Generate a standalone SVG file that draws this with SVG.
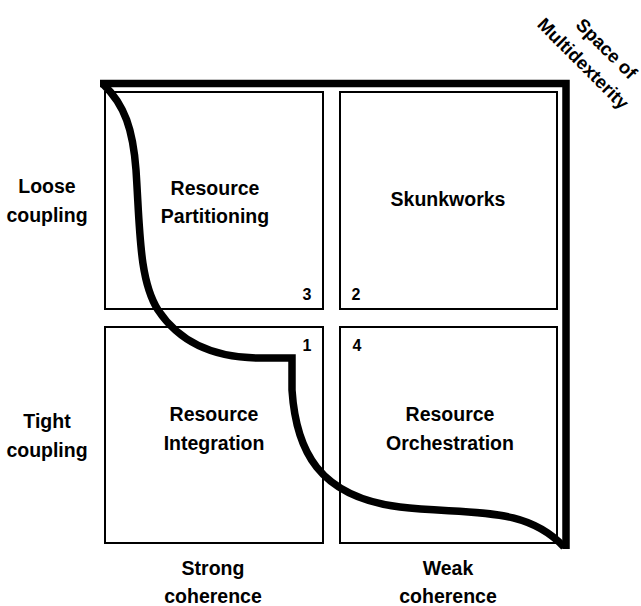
<svg xmlns="http://www.w3.org/2000/svg" width="641" height="606" viewBox="0 0 641 606">
<style>
.box{fill:#fff;stroke:#000;stroke-width:2}
.t{font-family:"Liberation Sans",Arial,sans-serif;font-weight:bold;font-size:19.5px;fill:#000;text-anchor:middle}
.r{font-size:18.5px}
.n{font-family:"Liberation Sans",Arial,sans-serif;font-weight:bold;font-size:16px;fill:#000;text-anchor:middle}
.thick{fill:none;stroke:#000;stroke-width:7.5}
</style>
<rect width="641" height="606" fill="#fff"/>
<g id="node-partitioning">
<rect class="box" x="105" y="92" width="218" height="217"/>
<text class="t" x="215" y="195">Resource</text>
<text class="t" x="215" y="223">Partitioning</text>
<text class="n" x="307" y="300">3</text>
</g>
<g id="node-skunkworks">
<rect class="box" x="340" y="92" width="217" height="217"/>
<text class="t" x="448" y="206">Skunkworks</text>
<text class="n" x="356" y="300">2</text>
</g>
<g id="node-integration">
<rect class="box" x="105" y="327" width="218" height="216"/>
<text class="t" x="214" y="421">Resource</text>
<text class="t" x="214" y="450">Integration</text>
<text class="n" x="307" y="351">1</text>
</g>
<g id="node-orchestration">
<rect class="box" x="340" y="327" width="217" height="216"/>
<text class="t" x="450" y="421">Resource</text>
<text class="t" x="450" y="450">Orchestration</text>
<text class="n" x="357" y="351">4</text>
</g>
<g id="connectors">
<path class="thick" d="M100,83.5 L566,83.5 L566,549" stroke-linejoin="miter"/>
<path class="thick" d="M103,84 C125,105 133,130 136,170 C140,230 139,280 158,310 C178,340 210,358 260,358 L292,358 L292,390 C296,450 318,497 400,507 C470,515 525,505 564,547"/>
</g>
<g id="labels">
<text class="t" x="47" y="193">Loose</text>
<text class="t" x="47" y="222">coupling</text>
<text class="t" x="47" y="428">Tight</text>
<text class="t" x="47" y="457">coupling</text>
<text class="t" x="213" y="575">Strong</text>
<text class="t" x="213" y="603">coherence</text>
<text class="t" x="448" y="575">Weak</text>
<text class="t" x="448" y="603">coherence</text>
<g transform="translate(595,56) rotate(45)">
<text class="t r" x="3" y="-7">Space of</text>
<text class="t r" x="-3" y="20">Multidexterity</text>
</g>
</g>
</svg>
